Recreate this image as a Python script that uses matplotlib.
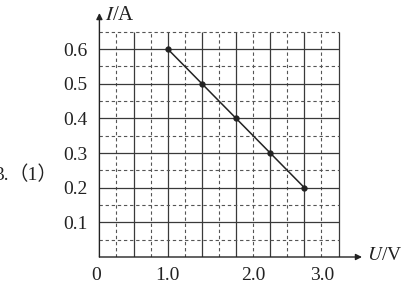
import matplotlib
matplotlib.use("Agg")
import matplotlib.pyplot as plt

plt.rcParams['font.family'] = ['Liberation Serif', 'Noto Sans CJK SC']
plt.rcParams['mathtext.fontset'] = 'stix'

# data (U in V, I in A)
U = [1.0, 1.5, 2.0, 2.5, 3.0]
I = [0.6, 0.5, 0.4, 0.3, 0.2]
y_ticks = [0.1, 0.2, 0.3, 0.4, 0.5, 0.6]
y_tick_labels = ['0.1', '0.2', '0.3', '0.4', '0.5', '0.6']
x_ticks = [-0.05, 1.0, 2.25, 3.26]
x_tick_labels = ['0', '1.0', '2.0', '3.0']

W, H = 404, 287
fig = plt.figure(figsize=(W / 100, H / 100), dpi=100)
# axes in pixel coordinates: origin (96,257), right 362, top 13
x0, y0, x1, y1 = 96, 257, 362, 13
ax = fig.add_axes([x0 / W, 1 - y0 / H, (x1 - x0) / W, (y0 - y1) / H])
ax.set_xlim(0, (x1 - x0) / (51.9 / 3) * 0.25)
ax.set_ylim(0, (y0 - y1) / (104 / 3) * 0.1)
for s in ax.spines.values():
    s.set_visible(False)
ax.patch.set_alpha(0)

gx_max, gy_max = 3.5, 0.65
gc = '#3a3a3a'
for k in range(1, 15):
    xv = k * 0.25
    if k % 2 == 0:
        ax.plot([xv, xv], [0, gy_max], color=gc, lw=0.9, solid_capstyle='butt')
    else:
        ax.plot([xv, xv], [0, gy_max], color='#555555', lw=0.8, ls=(0, (3, 2.5)))
for k in range(1, 14):
    yv = k * 0.05
    if k % 2 == 0:
        ax.plot([0, gx_max], [yv, yv], color=gc, lw=0.9, solid_capstyle='butt')
    else:
        ax.plot([0, gx_max], [yv, yv], color='#555555', lw=0.8, ls=(0, (3, 2.5)))

# axes with arrows
xmax = ax.get_xlim()[1]
ymax = ax.get_ylim()[1]
ax.annotate('', xy=(xmax, 0), xytext=(0, 0),
            arrowprops=dict(arrowstyle='-|>', color='#222222', lw=1.0,
                            mutation_scale=9, shrinkA=0, shrinkB=0))
ax.annotate('', xy=(0, ymax), xytext=(0, 0),
            arrowprops=dict(arrowstyle='-|>', color='#222222', lw=1.0,
                            mutation_scale=9, shrinkA=0, shrinkB=0))

# data line
ax.plot(U, I, color='#222222', lw=1.1, marker='o', ms=3.5, zorder=5)

ax.set_xticks(x_ticks)
ax.set_xticklabels(x_tick_labels, fontsize=14)
ax.set_yticks(y_ticks)
ax.set_yticklabels(y_tick_labels, fontsize=14)
ax.tick_params(length=0, pad=6, colors='#222222')
ax.tick_params(axis='x', pad=7)

fig.text(367 / W, 1 - 256 / H, r'$\mathit{U}$/V', fontsize=14, va='center', ha='left', color='#222222')
fig.text(105 / W, 1 - 15 / H, r'$\mathit{I}$/A', fontsize=15, va='center', ha='left', color='#222222')
fig.text(-6 / W, 1 - 175 / H, '3.', fontsize=14, va='center', ha='left', color='#222222')
fig.text(9 / W, 1 - 175 / H, '（1）', fontsize=14, va='center', ha='left', color='#222222')

fig.savefig('out.png', dpi=100)
